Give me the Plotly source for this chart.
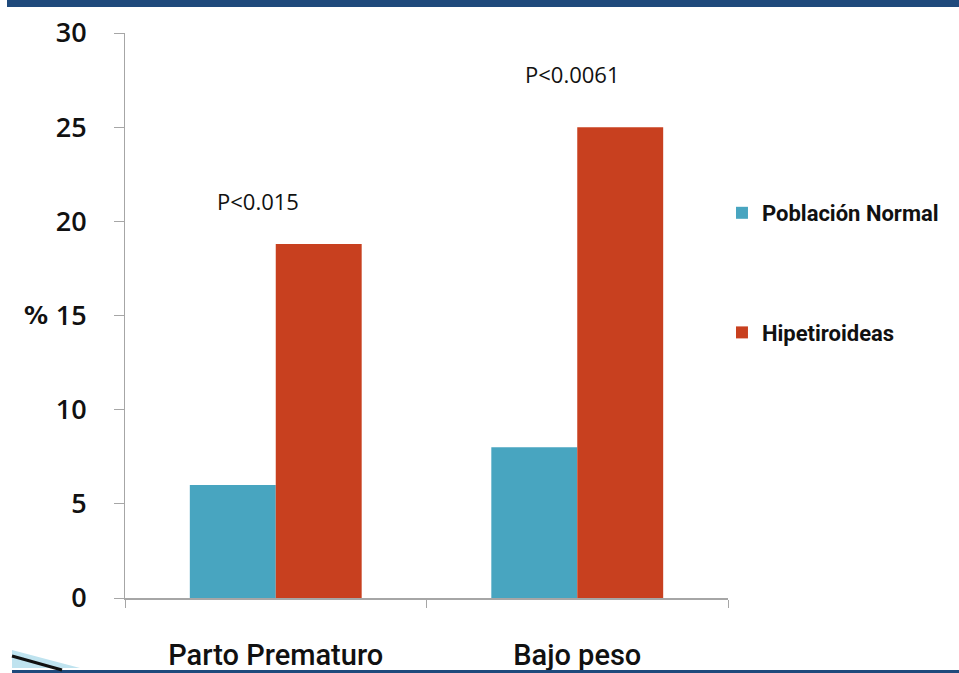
import plotly.graph_objects as go

# Data
categories = ["Parto Prematuro", "Bajo peso"]
poblacion_normal = [6, 8]
hipotiroideas = [18.8, 25]
series_names = ["Población Normal", "Hipetiroideas"]
p_labels = ["P<0.015", "P<0.0061"]
p_label_y = [21.1, 27.8]
y_ticks = [0, 5, 10, 15, 20, 25, 30]

W, H = 959, 673
ML, MR, MT, MB = 125, 231, 33, 75


def px_x(x):
    return (x - ML) / (W - ML - MR)


def px_y(y):
    return 1 - (y - MT) / (H - MT - MB)


fig = go.Figure()
fig.add_trace(go.Bar(
    x=categories, y=poblacion_normal, name=series_names[0],
    marker=dict(color="#48a5c0", line=dict(width=0)),
    legendgroup="a",
))
fig.add_trace(go.Bar(
    x=categories, y=hipotiroideas, name=series_names[1],
    marker=dict(color="#c8401f", line=dict(width=0)),
    legendgroup="b",
))

tick_font = dict(family="Open Sans", size=27, color="#111111", weight=600)

fig.update_layout(
    width=W, height=H,
    margin=dict(l=ML, r=MR, t=MT, b=MB, autoexpand=False),
    paper_bgcolor="white", plot_bgcolor="white",
    barmode="group", bargap=0.43, bargroupgap=0,
    showlegend=True,
    legend=dict(
        x=0.99, y=px_y(192), xanchor="left", yanchor="top",
        font=dict(family="Roboto", size=22, color="#111111", weight=700),
        tracegroupgap=88, itemwidth=30,
        bgcolor="rgba(0,0,0,0)",
    ),
    xaxis=dict(
        showline=True, linecolor="#a6a6a6", linewidth=1.5,
        ticks="outside", tickson="boundaries", ticklen=8,
        tickcolor="#a6a6a6", tickwidth=1,
        tickfont=dict(family="Roboto", size=29, color="#111111", weight=500),
        ticklabelstandoff=30, automargin=False,
        showgrid=False, zeroline=False,
    ),
    yaxis=dict(
        range=[0, 30], tickvals=y_ticks,
        showline=True, linecolor="#a6a6a6", linewidth=1,
        ticks="outside", ticklen=10, tickcolor="#a6a6a6", tickwidth=1,
        tickfont=tick_font, ticklabelstandoff=22, automargin=False,
        showgrid=False, zeroline=False,
    ),
)

# p-value annotations above each group
for cat, txt, yv, xs in zip(categories, p_labels, p_label_y, [-18, -5]):
    fig.add_annotation(
        x=cat, y=yv, xref="x", yref="y", text=txt, showarrow=False,
        xshift=xs, font=dict(family="Open Sans", size=22, color="#111111"),
    )

# axis title "%"
fig.add_annotation(
    x=px_x(22), y=px_y(316), xref="paper", yref="paper", text="%",
    showarrow=False, font=dict(family="DejaVu Sans", size=24,
                               color="#111111", weight=700),
)

# slide frame bands
fig.add_shape(type="rect", xref="paper", yref="paper",
              x0=px_x(7), x1=px_x(W), y0=px_y(0), y1=px_y(7),
              fillcolor="#1f4a7c", line=dict(width=0), layer="above")
fig.add_shape(type="rect", xref="paper", yref="paper",
              x0=px_x(12), x1=px_x(W), y0=px_y(670), y1=px_y(H),
              fillcolor="#1f4a7c", line=dict(width=0), layer="above")
# corner swoosh
fig.add_shape(type="path", xref="paper", yref="paper",
              path=(f"M {px_x(12)},{px_y(650)} L {px_x(80)},{px_y(668)} "
                    f"L {px_x(12)},{px_y(668)} Z"),
              fillcolor="#bfe3ef", line=dict(width=0), layer="above")
fig.add_shape(type="line", xref="paper", yref="paper",
              x0=px_x(12), y0=px_y(656), x1=px_x(62), y1=px_y(670),
              line=dict(color="#111111", width=3), layer="above")

fig.write_html(
    "out.html",
    post_script="document.body.style.margin='0';"
                "document.body.style.overflow='hidden';",
)
